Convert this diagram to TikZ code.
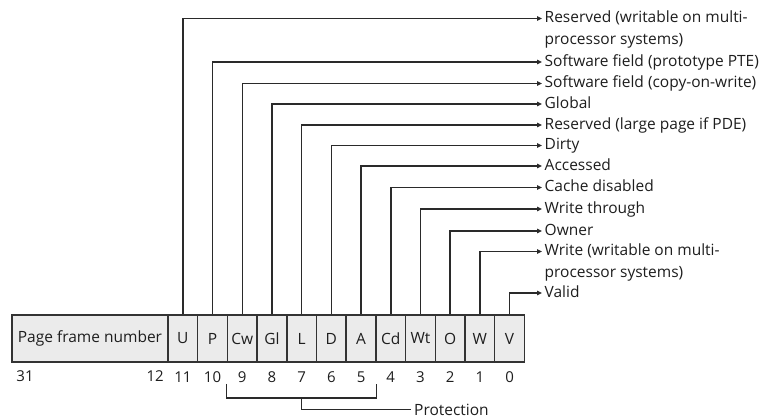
\documentclass[tikz,border=0pt]{standalone}
\usepackage{fontspec}
\setmainfont{Open Sans}
\usetikzlibrary{arrows.meta,calc}
\definecolor{boxc}{HTML}{333333}
\definecolor{cellc}{HTML}{EBEBEB}
\definecolor{linec}{HTML}{2A2A2A}
\definecolor{txtc}{HTML}{1E1E1E}
\begin{document}
\begin{tikzpicture}[x=1pt,y=-1pt,
  cell/.style={draw=boxc, fill=cellc, line width=1.5pt, minimum height=47pt, inner sep=0pt, text=txtc, font=\fontsize{15.5}{17}\selectfont},
  num/.style={inner sep=0pt, text=txtc, font=\fontsize{15}{17}\selectfont},
  lbl/.style={anchor=west, inner sep=0pt, align=left, text=txtc, font=\fontsize{15.5}{21.5}\selectfont},
  conn/.style={draw=linec, line width=1.5pt, -{Triangle[length=5pt,width=4.5pt]}},
  br/.style={draw=linec, line width=1.5pt}]
\useasboundingbox (0,0) rectangle (769,418);
\fill[white] (0,0) rectangle (769,418);
% register cells
\node[cell, minimum width=156pt] (PFN) at (90,338.5) {Page frame number};
\foreach \n [count=\i from 0] in {U,P,Cw,Gl,L,D,A,Cd,Wt,O,W,V}
  \node[cell, minimum width=29.7pt] (\n) at ({168+29.7*(\i+0.5)},338.5) {\n};
% bit numbers
\node[num] (b31) at (25,376) {31};
\node[num, anchor=east] (b12) at (164,376) {12};
\foreach \n/\b in {U/11,P/10,Cw/9,Gl/8,L/7,D/6,A/5,Cd/4,Wt/3,O/2,W/1,V/0}
  \node[num] (b\b) at ($(\n.south)+(0,14)$) {\b};
% arrow targets and labels
\foreach \n/\y in {U/18.5,P/62,Cw/83.5,Gl/104,L/125,D/145.5,A/166,Cd/187.5,Wt/209,O/231,W/251.5,V/293}
  \coordinate (t\n) at (542,\y);
\node[lbl] (lU) at ($(tU)+(2.5,10.75)$) {\strut Reserved (writable on multi-\\\strut processor systems)};
\node[lbl] (lP) at ($(tP)+(2.5,0)$) {\strut Software field (prototype PTE)};
\node[lbl] (lCw) at ($(tCw)+(2.5,0)$) {\strut Software field (copy-on-write)};
\node[lbl] (lGl) at ($(tGl)+(2.5,0)$) {\strut Global};
\node[lbl] (lL) at ($(tL)+(2.5,0)$) {\strut Reserved (large page if PDE)};
\node[lbl] (lD) at ($(tD)+(2.5,0)$) {\strut Dirty};
\node[lbl] (lA) at ($(tA)+(2.5,0)$) {\strut Accessed};
\node[lbl] (lCd) at ($(tCd)+(2.5,0)$) {\strut Cache disabled};
\node[lbl] (lWt) at ($(tWt)+(2.5,0)$) {\strut Write through};
\node[lbl] (lO) at ($(tO)+(2.5,0)$) {\strut Owner};
\node[lbl] (lW) at ($(tW)+(2.5,10.75)$) {\strut Write (writable on multi-\\\strut processor systems)};
\node[lbl] (lV) at ($(tV)+(2.5,0)$) {\strut Valid};
% connectors
\foreach \n in {U,P,Cw,Gl,L,D,A,Cd,Wt,O,W,V}
  \draw[conn] (\n.north) |- (t\n);
% protection bracket
\coordinate (brL) at ($(Cw.south west)+(0,21)$);
\coordinate (brR) at ($(A.south east)+(0,21)$);
\coordinate (brM) at ($(brL)!0.5!(brR)+(0,14)$);
\node[lbl] (prot) at (414,409.5) {Protection};
\draw[br] (brL) -- ++(0,14) -- ($(brR)+(0,14)$) -- (brR);
\draw[br] (brM) |- ($(prot.west)+(-3,0)$);
\end{tikzpicture}
\end{document}
